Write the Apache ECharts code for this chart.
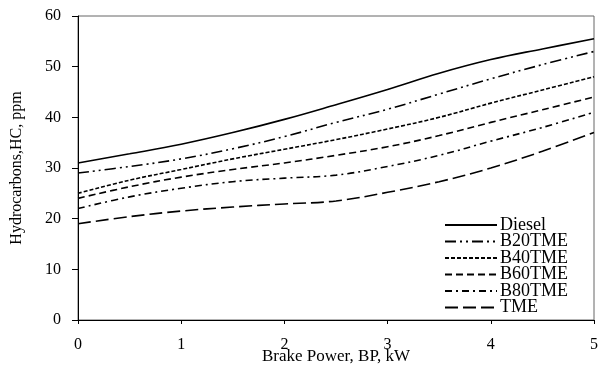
<!DOCTYPE html>
<html>
<head>
<meta charset="utf-8">
<script src="https://cdn.jsdelivr.net/npm/echarts@6/dist/echarts.min.js"></script>
<style>
  html, body { margin: 0; padding: 0; background: #fff; }
  #chart { width: 598px; height: 368px; }
</style>
</head>
<body>
<div id="chart"></div>
<script>
// brake power, kW
var power = [0, 0.5, 1, 1.5, 2, 2.5, 3, 3.5, 4, 4.5, 5]

// HC, ppm
var diesel = [31, 32.8, 34.7, 37.0, 39.6, 42.5, 45.5, 48.7, 51.4, 53.5, 55.5]
var b20tme = [29, 30.3, 31.8, 33.8, 36.2, 39.0, 41.6, 44.6, 47.6, 50.4, 53]
var b40tme = [25, 27.6, 29.7, 31.8, 33.7, 35.6, 37.7, 40.0, 42.8, 45.4, 48]
var b60tme = [24, 26.3, 28.2, 29.7, 31.0, 32.5, 34.2, 36.4, 39.0, 41.5, 44]
var b80tme = [22, 24.3, 26.0, 27.3, 28.0, 28.6, 30.3, 32.5, 35.3, 38.0, 41]
var tme = [19, 20.4, 21.5, 22.3, 22.9, 23.5, 25.2, 27.3, 30.0, 33.3, 37]

var names = ['Diesel', 'B20TME', 'B40TME', 'B60TME', 'B80TME', 'TME']
var values = [diesel, b20tme, b40tme, b60tme, b80tme, tme]
var dashes = ['solid', [11, 4, 2, 4, 2, 4], [4, 2], [7, 4], [7, 4, 2, 4], [13, 5]]

var serif = '"Liberation Serif", "Times New Roman", serif'

function pairs(ys) {
  return power.map(function (x, i) { return [x, ys[i]] })
}

var chart = echarts.init(document.getElementById('chart'))

chart.setOption({
  animation: false,
  grid: {
    left: 78,
    right: 4,
    top: 16,
    bottom: 48,
    outerBoundsMode: 'none',
    show: true,
    borderColor: '#666',
    borderWidth: 1
  },
  legend: {
    orient: 'vertical',
    left: 444,
    top: 216,
    padding: 0,
    itemWidth: 52,
    itemHeight: 14,
    itemGap: -1.5,
    itemStyle: { color: 'rgba(0,0,0,0)', borderWidth: 0 },
    textStyle: {
      fontFamily: serif,
      fontSize: 18,
      color: '#000',
      padding: [0, 0, 0, -2]
    },
    data: names
  },
  xAxis: {
    type: 'value',
    min: 0,
    max: 5,
    interval: 1,
    name: 'Brake Power, BP, kW',
    nameLocation: 'middle',
    nameGap: 28,
    nameMoveOverlap: false,
    nameTextStyle: { fontFamily: serif, fontSize: 17, color: '#000' },
    axisLine: { lineStyle: { color: '#000', width: 1 } },
    axisTick: { length: 4, lineStyle: { color: '#000' } },
    axisLabel: { fontFamily: serif, fontSize: 16, color: '#000', margin: 17 },
    splitLine: { show: false }
  },
  yAxis: {
    type: 'value',
    min: 0,
    max: 60,
    interval: 10,
    name: 'Hydrocarbons,HC, ppm',
    nameLocation: 'middle',
    nameGap: 53,
    nameMoveOverlap: false,
    nameTextStyle: { fontFamily: serif, fontSize: 16, color: '#000' },
    axisLine: { show: true, lineStyle: { color: '#000', width: 1 } },
    axisTick: { show: true, length: 6, lineStyle: { color: '#000' } },
    axisLabel: { fontFamily: serif, fontSize: 16, color: '#000', margin: 17 },
    splitLine: { show: false }
  },
  series: names.map(function (n, i) {
    return {
      name: n,
      type: 'line',
      smooth: 0.4,
      symbol: 'none',
      data: pairs(values[i]),
      lineStyle: { color: '#000', width: 1.6, type: dashes[i] },
      itemStyle: { color: '#000' }
    }
  })
})
</script>
</body>
</html>
